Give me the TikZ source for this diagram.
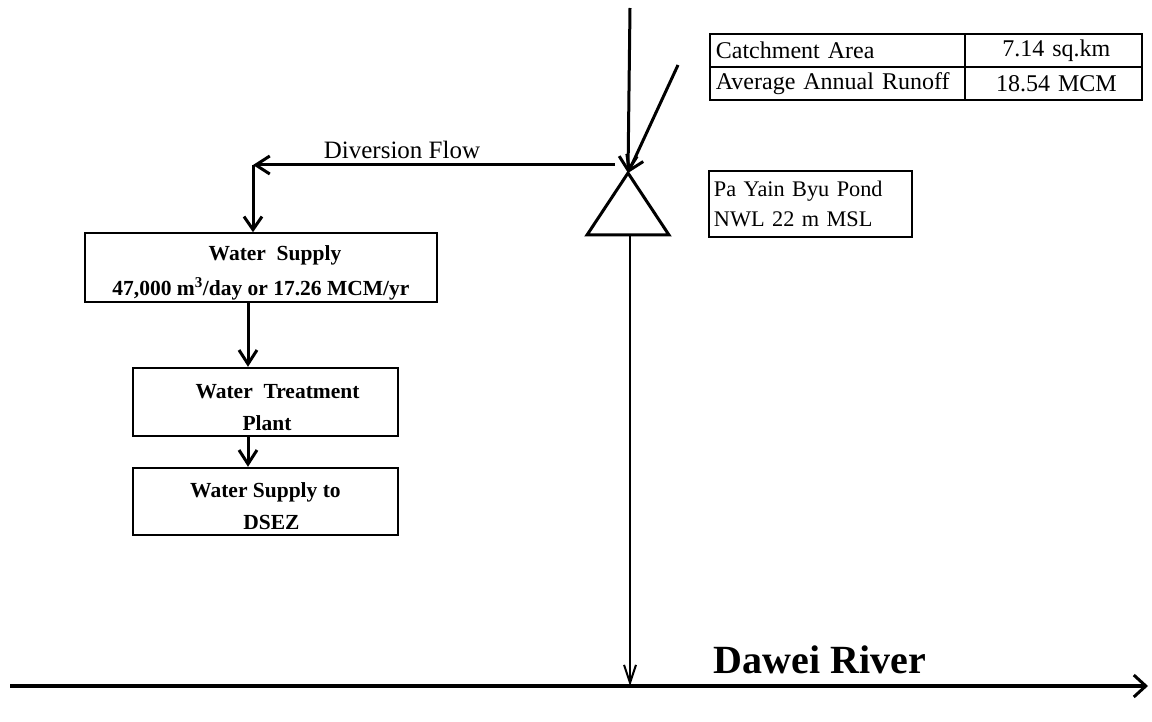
\documentclass[tikz,border=0pt]{standalone}
\usepackage{fontspec}
\setmainfont{Liberation Serif}
\usetikzlibrary{arrows.meta}
\begin{document}
\begin{tikzpicture}[x=1pt,y=-1pt,
  flow/.style={line width=3pt,-{Straight Barb[length=14pt,width=18pt,line width=3pt]}},
  thinflow/.style={line width=2pt,-{Straight Barb[length=18pt,width=12pt,line width=2pt]}},
  bbox/.style={draw,line width=1.6pt,inner sep=0pt,align=center,font=\bfseries\fontsize{21.5}{31}\selectfont},
  cell/.style={draw,line width=1.8pt,inner xsep=6pt,inner ysep=0pt,minimum height=33pt,anchor=north west,font=\fontsize{24}{28}\selectfont},
  plain/.style={font=\fontsize{22.3}{30}\selectfont}
]
\useasboundingbox (0,0) rectangle (1152,722);

% pond triangle
\coordinate (apex) at (628,173);
\coordinate (bl) at (587,235);
\coordinate (br) at (669,235);
\coordinate (basemid) at (630,235);
\draw[line width=3pt,line join=miter] (apex) -- (br) -- (bl) -- cycle;

% inflows
\coordinate (src1) at (630,8);
\coordinate (src2) at (678,65);
\draw[flow] (src1) -- (apex);
\draw[flow] (src2) -- (apex);

% table
\node[cell,text width=243pt,align=left] (c11) at (709,33) {Catchment Area};
\node[cell,text width=165pt,align=center] (c12) at (964,33) {\hspace*{6pt}7.14 sq.km};
\node[cell,text width=243pt,align=left] (c21) at (709,66) {Average Annual Runoff};
\node[cell,text width=165pt,align=center] (c22) at (964,66) {\hspace*{6pt}18.54 MCM};

% pond box
\node[draw,line width=1.8pt,anchor=north west,inner xsep=5pt,inner ysep=0pt,
      text width=193pt,minimum height=66pt,align=left,plain] (pond) at (708,170)
      {Pa Yain Byu Pond\\NWL 22 m MSL};

% boxes
\node[bbox,minimum width=352pt,minimum height=69pt] (ws) at (261,267.5)
  {\rule{0pt}{25pt}\hspace*{28pt}Water\ \ Supply\\[4pt]47,000 m\textsuperscript{3}/day or 17.26 MCM/yr};
\node[bbox,line width=2.4pt,minimum width=265pt,minimum height=68pt] (wtp) at (265.5,402)
  {\rule{0pt}{26pt}\hspace*{24pt}Water\ \ Treatment\\[1pt]\hspace*{3pt}Plant};
\node[bbox,line width=2.4pt,minimum width=265pt,minimum height=67pt] (dsez) at (265.5,501.5)
  {\rule{0pt}{24pt}Water Supply to\\[1pt]\hspace*{12pt}DSEZ};

% diversion
\coordinate (divstart) at (615,165);
\coordinate (corner) at (253,165);
\node[font=\fontsize{25}{30}\selectfont,anchor=south] (divlab) at (402,162) {Diversion Flow};
\draw[flow] (divstart) -- (corner);
\draw[flow,-{Straight Barb[length=13pt,width=18pt,line width=3pt]}] (corner) -- (corner |- ws.north);

% chain
\draw[flow] ([xshift=-13pt]ws.south) -- ([xshift=-13pt]ws.south |- wtp.north);
\draw[flow] ([xshift=-17.5pt]wtp.south) -- ([xshift=-17.5pt]wtp.south |- dsez.north);

% river
\coordinate (rw) at (10,686);
\coordinate (re) at (1148,686);
\draw[line width=3.5pt,-{Straight Barb[length=12pt,width=22pt,line width=3pt]}] (rw) -- (re);
\draw[thinflow] (basemid) -- (basemid |- rw);
\node[font=\bfseries\fontsize{40}{46}\selectfont] (river) at (820,660) {Dawei River};
\end{tikzpicture}
\end{document}
